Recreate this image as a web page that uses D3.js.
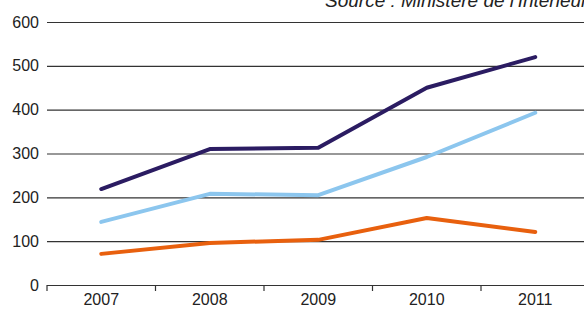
<!DOCTYPE html>
<html>
<head>
<meta charset="utf-8">
<script src="https://cdn.jsdelivr.net/npm/d3@7"></script>
<style>
  html, body { margin: 0; padding: 0; background: #fff; }
  svg { display: block; }
</style>
</head>
<body>
<div id="chart"></div>
<script>
const years = ["2007", "2008", "2009", "2010", "2011"];
const darkSeries = [219, 310, 313, 450, 520];
const lightSeries = [144, 208, 205, 292, 393];
const orangeSeries = [71, 96, 103, 153, 121];
const yTicks = [0, 100, 200, 300, 400, 500, 600];
const sourceText = "Source : Ministère de l'Intérieur";

const width = 584;
const height = 318;
const left = 47;
const bandW = 108.5;

const series = [
  { values: orangeSeries, colour: "#e8600e" },
  { values: lightSeries, colour: "#8cc6ee" },
  { values: darkSeries, colour: "#2b1c62" },
];

const svg = d3
  .select("#chart")
  .append("svg")
  .attr("width", width)
  .attr("height", height)
  .style("font-family", "'Liberation Sans', Arial, sans-serif");

const xScale = d3
  .scaleBand()
  .domain(years)
  .range([left, left + bandW * years.length]);

const yScale = d3.scaleLinear().domain([0, 600]).range([285, 22]);

// horizontal gridlines with labels
const yAxis = svg
  .append("g")
  .attr("transform", `translate(${left}, 0)`)
  .call(
    d3
      .axisLeft(yScale)
      .tickValues(yTicks)
      .tickSize(-(width - left + 20))
      .tickPadding(8)
  );

yAxis.select(".domain").remove();
yAxis
  .selectAll(".tick line")
  .attr("stroke", "#333")
  .attr("stroke-width", 1.2);
yAxis
  .selectAll(".tick text")
  .attr("font-size", "16px")
  .attr("fill", "#222")
  .attr("font-family", "'Liberation Sans', Arial, sans-serif");

// x axis ticks at band boundaries
const xAxis = svg
  .append("g")
  .attr("transform", `translate(0, ${yScale(0)})`)
  .call(d3.axisBottom(xScale).tickSize(0).tickPadding(9));

xAxis.select(".domain").remove();
xAxis
  .selectAll(".tick text")
  .attr("font-size", "16px")
  .attr("fill", "#222")
  .attr("font-family", "'Liberation Sans', Arial, sans-serif");

const bounds = years.map((y) => xScale(y)).concat([xScale.range()[1]]);
xAxis
  .selectAll(".bound")
  .data(bounds)
  .join("line")
  .attr("class", "bound")
  .attr("x1", (d) => d)
  .attr("x2", (d) => d)
  .attr("y1", 0)
  .attr("y2", 6)
  .attr("stroke", "#333")
  .attr("stroke-width", 1.2);

// lines
const line = d3
  .line()
  .x((_d, i) => xScale(years[i]) + xScale.bandwidth() / 2)
  .y((d) => yScale(d));

svg
  .selectAll(".series")
  .data(series)
  .join("path")
  .attr("class", "series")
  .attr("fill", "none")
  .attr("stroke", (d) => d.colour)
  .attr("stroke-width", 4)
  .attr("stroke-linecap", "round")
  .attr("stroke-linejoin", "round")
  .attr("d", (d) => line(d.values));

// source note, partly cut off at the top and right as in the original
svg
  .append("text")
  .attr("x", 325)
  .attr("y", 7)
  .attr("font-size", "19px")
  .attr("font-style", "italic")
  .attr("fill", "#222")
  .text(sourceText);
</script>
</body>
</html>
